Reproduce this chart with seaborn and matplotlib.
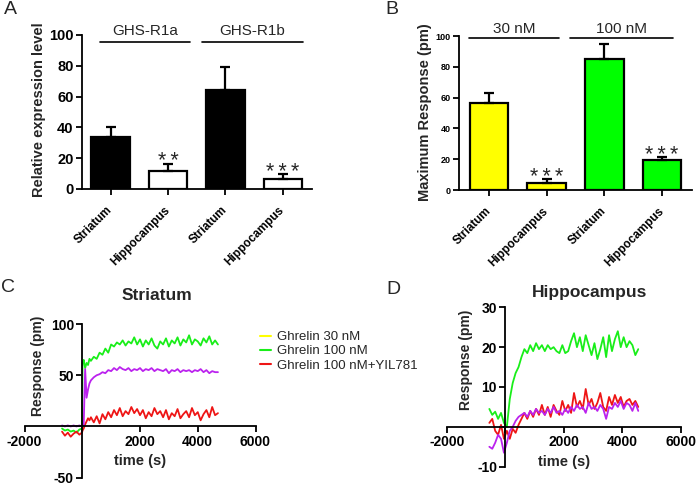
import numpy as np
import pandas as pd
import matplotlib
matplotlib.use('Agg')
import matplotlib.pyplot as plt
from matplotlib.lines import Line2D
import seaborn as sns

# ---- panel A: relative expression (qPCR)
A_tissues = ['Striatum', 'Hippocampus', 'Striatum', 'Hippocampus']
A_groups = ['GHS-R1a', 'GHS-R1a', 'GHS-R1b', 'GHS-R1b']
A_means = [34.0, 12.0, 64.5, 6.5]
A_sem = [6.5, 4.5, 14.5, 3.0]
A_stars = ['', '**', '', '***']
A_yticks = [0, 20, 40, 60, 80, 100]

# ---- panel B: maximum response
B_tissues = ['Striatum', 'Hippocampus', 'Striatum', 'Hippocampus']
B_groups = ['30 nM', '30 nM', '100 nM', '100 nM']
B_means = [56.3, 4.7, 85.0, 19.3]
B_sem = [6.9, 2.5, 9.6, 1.9]
B_stars = ['', '***', '', '***']
B_yticks = [0, 20, 40, 60, 80, 100]

# ---- panel C: striatum traces
C_time = [-700, -600, -500, -400, -300, -200, -100, -10, 10, 50, 100, 150, 200, 250,
          300, 400, 500, 600, 700, 800, 900, 1000, 1100, 1200, 1300, 1400, 1500, 1600, 1700, 1800, 1900, 2000,
          2100, 2200, 2300, 2400, 2500, 2600, 2700, 2800, 2900, 3000, 3100, 3200, 3300, 3400, 3500, 3600, 3700, 3800, 3900, 4000,
          4100, 4200, 4300, 4400, 4500, 4600, 4700]
C_100 = [-2, -4, -3, -5, -4, -6, -3, -2, 62, 65, 57, 62, 60, 66,
         64, 68, 66, 72, 70, 76, 72, 80, 78, 82, 80, 84, 79, 83, 81, 87, 80, 85,
         78, 84, 80, 86, 79, 76, 83, 80, 86, 78, 84, 81, 87, 79, 85, 82, 89, 80, 85, 83,
         79, 86, 82, 88, 80, 84, 80]
C_30 = [1, 0, 1, 0, 1, 0, 1, 0, 1, 1, 56, 28, 36, 42,
        45, 48, 50, 51, 53, 52, 55, 54, 57, 55, 58, 56, 55, 57, 54, 56, 55, 57,
        54, 56, 55, 57, 54, 56, 55, 54, 56, 52, 55, 54, 56, 53, 55, 54, 55, 53, 55, 54,
        56, 53, 55, 52, 54, 53, 53]
C_yil = [-5, -9, -6, -10, -7, -5, -8, -6, -4, -2, 2, 5, 8, 6,
         9, 4, 10, 3, 12, 7, 14, 9, 16, 11, 18, 10, 15, 12, 19, 13, 17, 11,
         16, 8, 14, 10, 18, 12, 15, 9, 16, 7, 13, 10, 17, 8, 12, 15, 9, 18, 11, 14,
         6, 12, 16, 9, 19, 11, 13]

# ---- panel D: hippocampus traces
D_time = [-550, -450, -350, -250, -150, -50, 50, 150, 250, 350, 450, 550, 650, 750, 850, 950, 1050,
          1150, 1250, 1350, 1450, 1550, 1650, 1750, 1850, 1950, 2050, 2150, 2250, 2350, 2450, 2550, 2650, 2750,
          2850, 2950, 3050, 3150, 3250, 3350, 3450, 3550, 3650, 3750, 3850, 3950, 4050, 4150, 4250, 4350, 4450, 4550]
D_100 = [4.5, 3.0, 3.8, 2.0, 3.5, 1.0, 0.0, 7.0, 11.0, 13.5, 15.0, 17.5, 19.5, 18.5, 20.5, 19.0, 21.0,
         19.5, 20.5, 19.0, 20.5, 19.5, 20.0, 19.0, 18.5, 20.5, 18.5, 19.0, 21.5, 23.5, 20.0, 22.5, 19.0, 23.0,
         20.5, 18.0, 21.0, 17.0, 19.5, 22.5, 17.5, 23.0, 19.0, 22.0, 24.0, 20.0, 22.5, 20.0, 21.5, 20.5, 18.0, 19.5]
D_yil = [1.0, 2.0, -1.0, -2.0, 0.5, -3.0, -1.0, -3.0, -0.5, -1.5, 0.5, 2.0, 3.5, 2.0, 4.0, 2.5, 4.5,
         3.0, 5.5, 3.0, 5.0, 2.5, 5.5, 4.0, 3.0, 6.5, 4.0, 5.5, 3.5, 8.5, 5.0, 6.5, 4.5, 9.5,
         5.5, 7.0, 4.5, 6.0, 8.5, 5.0, 4.0, 7.5, 5.5, 8.0, 6.0, 7.5, 5.0, 6.5, 7.0, 5.5, 6.5, 5.0]
D_30 = [-5.0, -5.5, -4.0, -2.0, -3.0, -6.5, -4.0, -1.0, 0.0, 1.5, 2.5, 3.0, 3.5, 2.5, 4.0, 3.0, 4.5,
        3.5, 4.0, 3.0, 4.5, 3.5, 5.0, 3.5, 4.0, 3.0, 4.5, 3.5, 5.0, 4.0, 5.5, 4.5, 5.0, 3.5,
        6.0, 4.5, 5.0, 4.0, 5.5, 4.5, 2.0, 5.0, 4.5, 6.0, 5.0, 6.5, 4.5, 6.0, 5.5, 4.0, 6.0, 4.0]

legend_labels = ['Ghrelin 30 nM', 'Ghrelin 100 nM', 'Ghrelin 100 nM+YIL781']

sns.set_style('ticks')
plt.rcParams['font.family'] = ['Liberation Sans', 'DejaVu Sans']

W, H = 700, 486
fig = plt.figure(figsize=(7, 4.86), dpi=100)


def px_axes(l, t, r, b):
    return fig.add_axes([l / W, 1 - b / H, (r - l) / W, (b - t) / H])


def ftext(x, y, s, **kw):
    fig.text(x / W, 1 - y / H, s, **kw)


YELLOW, GREEN, MAGENTA, RED = '#ffff00', '#19ee19', '#bb22ee', '#ee1515'


def bar_panel(ax, tissues, groups, means, sem, stars, colors, yticks, tick_fs, spans, line_y, text_y):
    df = pd.DataFrame({'bar': [f'{g} {t}' for g, t in zip(groups, tissues)], 'value': means})
    sns.barplot(data=df, x='bar', y='value', hue='bar', palette=colors, legend=False, saturation=1,
                width=0.67, edgecolor='black', linewidth=1.6, errorbar=None, ax=ax)
    ax.errorbar(range(len(means)), means, yerr=[np.zeros(len(sem)), sem], fmt='none',
                ecolor='black', elinewidth=1.6, capsize=3.8, capthick=1.6, zorder=3)
    for i, s in enumerate(stars):
        if s:
            ax.annotate('\u2009'.join(s), xy=(i, means[i] + sem[i]), xytext=(0, -2.8),
                        textcoords='offset points', ha='center', va='baseline', fontsize=15.5)
    ax.set_ylim(0, 100)
    ax.set_yticks(yticks)
    ax.set_xticks(range(len(tissues)))
    ax.set_xticklabels(tissues, rotation=45, ha='right', va='center', rotation_mode='anchor',
                       fontweight='bold', fontsize=8.5)
    for lab in ax.get_yticklabels():
        lab.set_fontweight('bold')
        lab.set_fontsize(tick_fs)
    ax.set_xlabel('')
    ax.set_ylabel('')
    sns.despine(ax=ax)
    for sp in ['left', 'bottom']:
        ax.spines[sp].set_linewidth(1.3)
        ax.spines[sp].set_color('black')
    ax.tick_params(axis='x', length=4, width=1.3, pad=10, colors='black')
    ax.tick_params(axis='y', length=4, width=1.3, pad=2, colors='black')
    names = list(dict.fromkeys(groups))
    for name, (x0, x1) in zip(names, spans):
        ax.plot([x0, x1], [line_y, line_y], color='black', lw=1.2, clip_on=False)
        ax.text((x0 + x1) / 2, text_y, name, ha='center', va='center', fontsize=11, clip_on=False)


# panel A
axA = px_axes(82, 35, 312, 189)
bar_panel(axA, A_tissues, A_groups, A_means, A_sem, A_stars,
          ['black', 'white', 'black', 'white'], A_yticks, 10.5,
          [(-0.19, 1.38), (1.59, 3.35)], 95.5, 102.5)
axA.set_xlim(-0.50, 3.51)
ftext(39, 110, 'Relative expression level', rotation=90, ha='center', va='center',
      fontweight='bold', fontsize=10.5)
ftext(10, 9, 'A', ha='center', va='center', fontsize=14)

# panel B
axB = px_axes(459, 36, 692, 190)
bar_panel(axB, B_tissues, B_groups, B_means, B_sem, B_stars,
          [YELLOW, YELLOW, '#00ff00', '#00ff00'], B_yticks, 6.5,
          [(-0.35, 1.21), (1.40, 3.19)], 98.7, 104.5)
axB.set_xlim(-0.52, 3.52)
ftext(425, 112, 'Maximum Response (pm)', rotation=90, ha='center', va='center',
      fontweight='bold', fontsize=10.5)
ftext(392, 10, 'B', ha='center', va='center', fontsize=14)


def trace_panel(ax, t, s30, s100, syil, ylim, yticks, title, title_xy, ylab_xy):
    sns.lineplot(x=t, y=s100, color=GREEN, lw=1.3, ax=ax)
    sns.lineplot(x=t, y=syil, color=RED, lw=1.3, ax=ax)
    sns.lineplot(x=t, y=s30, color=MAGENTA, lw=1.3, ax=ax)
    ax.set_xlim(-2000, 6000)
    ax.set_ylim(*ylim)
    ax.spines['left'].set_position(('data', 0))
    ax.spines['bottom'].set_position(('data', 0))
    ax.spines['top'].set_visible(False)
    ax.spines['right'].set_visible(False)
    for sp in ['left', 'bottom']:
        ax.spines[sp].set_linewidth(1.3)
        ax.spines[sp].set_color('black')
    xt = [-2000, 0, 2000, 4000, 6000]
    ax.set_xticks(xt)
    ax.set_xticklabels(['' if v == 0 else str(v) for v in xt], fontweight='bold', fontsize=10)
    ax.set_yticks(yticks)
    ax.set_yticklabels(['' if v == 0 else str(v) for v in yticks], fontweight='bold', fontsize=10)
    ax.tick_params(length=4, width=1.3, pad=2, colors='black')
    ax.set_xlabel('time (s)', fontweight='bold', fontsize=10.5, labelpad=4)
    ax.set_ylabel('')
    ftext(title_xy[0], title_xy[1], title, ha='center', va='center', fontweight='bold', fontsize=12.5)
    ftext(ylab_xy[0], ylab_xy[1], 'Response (pm)', rotation=90, ha='center', va='center',
          fontweight='bold', fontsize=10)


axC = px_axes(24.5, 324, 255.5, 477.7)
trace_panel(axC, C_time, C_30, C_100, C_yil, (-50, 100), [-50, 0, 50, 100],
            'Striatum', (157, 295), (38, 366))
ftext(8, 288, 'C', ha='center', va='center', fontsize=14)

axD = px_axes(447, 307.3, 680.6, 466.7)
trace_panel(axD, D_time, D_30, D_100, D_yil, (-10, 30), [-10, 0, 10, 20, 30],
            'Hippocampus', (590, 293), (466, 360))
ftext(393, 289, 'D', ha='center', va='center', fontsize=14)

handles = [Line2D([], [], color=c, lw=1.5) for c in [YELLOW, GREEN, RED]]
fig.legend(handles, legend_labels, loc='upper left', bbox_to_anchor=(260 / W, 1 - 331 / H),
           frameon=False, fontsize=9.5, handlelength=0.8, handletextpad=0.5,
           labelspacing=0.15, borderpad=0, borderaxespad=0)

fig.savefig('out.png', dpi=100)
